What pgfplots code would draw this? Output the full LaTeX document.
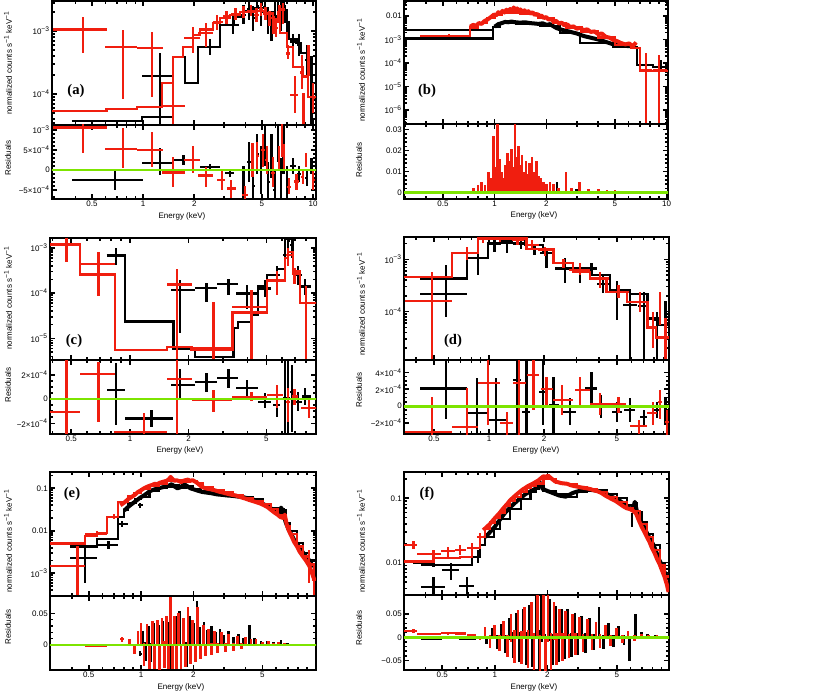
\documentclass[border=0pt]{standalone}
\usepackage{fontspec}
\setmainfont{Liberation Sans}
\newfontfamily\labfont{Liberation Serif}
\usepackage{pgfplots}
\usepackage{pgfplotstable}
\pgfplotsset{compat=1.18}
\definecolor{xred}{RGB}{240,30,15}
\definecolor{xgreen}{RGB}{125,228,0}

\pgfplotsset{every axis/.append style={scale only axis, xmode=log,
    scaled y ticks=false, scaled x ticks=false,
    axis line style={line width=1.8pt},
    tick align=inside, major tick length=3.5pt, minor tick length=2pt,
    tick style={line width=1.2pt, black},
    xtick={0.5,1,2,5,10},
    minor xtick={0.3,0.4,0.6,0.7,0.8,0.9,3,4,6,7,8,9},
    ticklabel style={font=\fontsize{6}{7}\selectfont, inner sep=1.5pt}}}
\newcommand\crs[2]{\addplot[draw=none, mark=none, error bars/.cd, x dir=both, x explicit, y dir=both, y explicit, error mark=none, error bar style={line width=1.7pt, draw=#1}] table[x=x,y=y,x error plus expr=\thisrow{xh}-\thisrow{x},x error minus expr=\thisrow{x}-\thisrow{xl},y error plus expr=\thisrow{yh}-\thisrow{y},y error minus expr=\thisrow{y}-\thisrow{yl}] {#2};}
\newcommand\dns[2]{\addplot[#1, line width=3pt, line join=round] table[x=x,y=y] {#2};}
\newcommand\rdn[2]{\addplot[ycomb, draw=#1, line width=2pt] table[x=x,y expr=\thisrow{y}+\thisrow{ey}] {#2};
  \addplot[ycomb, draw=#1, line width=2pt] table[x=x,y expr=\thisrow{y}-\thisrow{ey}] {#2};}
\newcommand\zl{\addplot[xgreen, line width=2.2pt] coordinates {(0.2,0) (20,0)};}

% ---------------- panel (a)
\pgfplotstableread{
x y xl xh yl yh
0.444 1.06e-3 0.296 0.614 4.5e-4 1.69e-3
0.763 5.6e-4 0.60 0.92 8.3e-5 1.04e-3
1.13 5.3e-4 0.92 1.31 9.1e-5 9.7e-4
1.5 6.5e-5 1.29 1.77 3.0e-5 3.9e-4
1.97 7.7e-4 1.74 2.16 4.4e-4 1.17e-3
2.34 9.2e-4 2.10 2.58 5.6e-4 1.33e-3
2.72 1.4e-3 2.58 2.95 1.04e-3 1.8e-3
3.1 1.7e-3 2.95 3.3 1.3e-3 2.1e-3
3.5 1.85e-3 3.3 3.7 1.5e-3 2.3e-3
3.9 2.0e-3 3.7 4.1 1.6e-3 2.5e-3
4.3 2.1e-3 4.1 4.5 1.7e-3 2.6e-3
4.65 1.8e-3 4.5 4.8 1.4e-3 2.3e-3
4.95 2.2e-3 4.8 5.1 1.7e-3 2.8e-3
5.25 1.9e-3 5.1 5.4 1.5e-3 2.4e-3
5.55 1.6e-3 5.4 5.7 1.2e-3 2.1e-3
5.85 1.3e-3 5.7 6.0 9e-4 1.7e-3
6.06 1.1e-3 5.95 6.2 8e-4 1.6e-3
6.35 2.0e-3 6.2 6.5 1.5e-3 2.6e-3
6.66 2.2e-3 6.5 6.8 1.3e-3 2.8e-3
7.1 4.4e-4 6.9 7.35 3.6e-4 6e-4
7.8 9.6e-5 7.35 8.2 5e-5 1.9e-4
8.6 2.2e-4 8.4 8.8 1.2e-4 4.1e-4
8.8 5e-5 8.6 9.0 3.0e-5 1.03e-4
9.4 3.7e-4 9.2 9.6 1.9e-4 6.1e-4
10.0 8.7e-5 9.8 10.2 5e-5 1.5e-4
}\tAur
\pgfplotstableread{
x y xl xh yl yh
1.26 1.93e-4 0.99 1.5 3.0e-5 4.5e-4
2.48 5.6e-4 2.16 2.84 4.2e-4 7.5e-4
3.38 1.25e-3 3.1 3.65 9e-4 1.6e-3
3.9 1.8e-3 3.75 4.05 1.3e-3 2.6e-3
4.2 2.2e-3 4.1 4.3 1.5e-3 3.1e-3
4.45 1.6e-3 4.35 4.55 1.0e-3 2.5e-3
4.7 2.5e-3 4.6 4.8 1.7e-3 3.1e-3
4.95 2.0e-3 4.85 5.05 1.2e-3 3.1e-3
5.2 2.4e-3 5.1 5.3 1.5e-3 3.1e-3
5.45 1.5e-3 5.35 5.55 9e-4 2.4e-3
5.7 1.2e-3 5.6 5.8 7e-4 2.0e-3
5.95 2.0e-3 5.85 6.05 1.2e-3 3.1e-3
6.2 2.7e-3 6.1 6.3 1.8e-3 3.1e-3
6.45 1.7e-3 6.35 6.55 1.0e-3 2.9e-3
6.7 2.5e-3 6.6 6.8 1.5e-3 3.1e-3
7.0 1.3e-3 6.9 7.1 8e-4 2.2e-3
7.6 6.8e-4 7.3 7.9 5e-4 9e-4
8.3 6e-4 8.1 8.5 4e-4 9e-4
9.2 3.5e-4 9.0 9.4 2e-4 6e-4
9.8 1.6e-4 9.6 10.0 3.0e-5 4e-4
}\tAuk
\pgfplotstableread{
x y xl xh yl yh
0.444 1.06e-3 0.296 0.614 4.2e-4 1.2e-3
0.763 5.25e-4 0.60 0.92 4e-5 1.06e-3
1.13 5.0e-4 0.92 1.31 8e-5 9.6e-4
1.5 -6e-5 1.29 1.77 -4.2e-4 3.3e-4
1.97 2.5e-4 1.74 2.16 -8e-5 6e-4
2.34 -1.4e-4 2.10 2.58 -4.2e-4 8e-5
2.9 -2.5e-4 2.72 3.05 -5e-4 0
3.3 -4.6e-4 3.1 3.5 -7e-4 -2.5e-4
3.98 -6.2e-4 3.8 4.15 -7.3e-4 -4e-4
4.4 2.5e-4 4.3 4.5 -1.7e-4 6.7e-4
4.7 3.5e-4 4.6 4.8 0 7e-4
5.1 5e-4 4.95 5.25 8e-5 9e-4
5.35 2.5e-4 5.25 5.45 -1e-4 6e-4
5.8 -8e-5 5.65 5.95 -4.2e-4 3.3e-4
6.3 3e-4 6.2 6.4 0 6e-4
6.56 7e-4 6.45 6.65 3.3e-4 1.2e-3
6.75 3.3e-4 6.65 6.85 0 6.5e-4
7.2 -4.2e-4 7.0 7.4 -6e-4 -2e-4
8.0 -2.9e-4 7.7 8.3 -5e-4 -1e-4
8.7 -1.7e-4 8.5 8.9 -3.5e-4 0
9.1 2.5e-4 8.95 9.25 8e-5 4.2e-4
10.0 -2.5e-4 9.8 10.2 -5e-4 0
}\tAlr
\pgfplotstableread{
x y xl xh yl yh
0.685 -2.5e-4 0.38 1.0 -5e-4 0
1.26 1.7e-4 0.99 1.5 -1.25e-4 5.4e-4
1.73 2.5e-4 1.5 2.0 1.25e-4 3.75e-4
2.48 8e-5 2.16 2.84 0 1.5e-4
3.25 -8e-5 3.05 3.45 -1.7e-4 1e-5
3.9 -3e-4 3.8 4.0 -7e-4 1e-4
4.2 2e-4 4.1 4.3 -3e-4 7e-4
4.45 -4e-4 4.35 4.55 -7.3e-4 0
4.7 4e-4 4.6 4.8 -1e-4 9e-4
4.95 0 4.85 5.05 -6e-4 6e-4
5.2 6e-4 5.1 5.3 1e-4 1.2e-3
5.45 -3e-4 5.35 5.55 -7e-4 2e-4
5.7 3e-4 5.6 5.8 -2e-4 9e-4
5.95 -5e-4 5.85 6.05 -7.3e-4 0
6.2 8e-4 6.1 6.3 2e-4 1.2e-3
6.45 -2e-4 6.35 6.55 -7e-4 3e-4
6.7 5e-4 6.6 6.8 -1e-4 1.2e-3
7.0 -4e-4 6.9 7.1 -7.3e-4 1e-4
7.6 1e-4 7.3 7.9 -1e-4 3e-4
8.3 -1e-4 8.1 8.5 -3e-4 1e-4
9.2 -2e-4 9.0 9.4 -4e-4 0
9.8 1e-4 9.6 10.0 -1e-4 3e-4
}\tAlk

% ---------------- panel (b)
\pgfplotstableread{
x y xl xh yl yh
0.54 1.45e-3 0.368 0.703 1.25e-3 1.7e-3
7.6 5e-5 7.0 8.2 1e-7 2.6e-4
9.0 5e-5 8.3 10.0 1e-7 2.2e-4
}\tBur
\pgfplotstableread{
x y xl xh yl yh
0.54 2.6e-3 0.297 0.98 2.3e-3 2.9e-3
9.3 7e-5 8.4 10.18 4e-5 1.4e-4
}\tBuk
\pgfplotstableread{
x y
0.72 3.5e-3
0.75 4.2e-3
0.78 3.8e-3
0.81 5.0e-3
0.84 4.6e-3
0.87 6.0e-3
0.90 6.8e-3
0.93 8.0e-3
0.96 9.5e-3
0.99 0.0115
1.02 0.0105
1.05 0.0145
1.08 0.0125
1.11 0.0165
1.14 0.0140
1.17 0.0185
1.20 0.0150
1.23 0.0200
1.26 0.0165
1.29 0.0230
1.32 0.0170
1.35 0.0210
1.38 0.0160
1.41 0.0190
1.45 0.0145
1.49 0.0175
1.53 0.0135
1.57 0.0160
1.61 0.0125
1.66 0.0145
1.71 0.0110
1.76 0.0125
1.81 0.0095
1.87 0.0105
1.93 0.0082
1.99 0.0090
2.06 0.0070
2.13 0.0075
2.20 0.0058
2.28 0.0062
2.36 0.0048
2.45 0.0052
2.54 0.0040
2.64 0.0044
2.75 0.0034
2.87 0.0036
3.00 0.0029
3.14 0.0031
3.29 0.0025
3.45 0.0027
3.62 0.0021
3.80 0.0022
3.99 0.0017
4.20 0.0018
4.42 0.0013
4.65 0.0012
4.90 0.00095
5.15 0.00085
5.45 0.00070
5.75 0.00062
6.05 0.00068
6.35 0.00052
6.65 0.00075
}\tBurd
\pgfplotstableread{
x y
1.0 3.5e-3
1.05 4.5e-3
1.1 5.0e-3
1.15 5.6e-3
1.2 5.4e-3
1.25 5.8e-3
1.3 5.5e-3
1.4 5.2e-3
1.5 5.4e-3
1.6 5.0e-3
1.7 4.8e-3
1.8 4.6e-3
1.9 4.9e-3
2.0 4.2e-3
2.1 4.5e-3
2.2 3.6e-3
2.3 3.0e-3
2.5 2.5e-3
2.7 2.2e-3
3.0 1.8e-3
3.3 1.4e-3
3.6 1.2e-3
4.0 1.0e-3
4.4 8e-4
4.8 6.5e-4
5.2 6e-4
5.6 5.5e-4
6.0 5.2e-4
6.5 5.5e-4
}\tBukd
\pgfplotstableread{
x y ey
0.55 0.0005 0.0005
0.75 0.001 0.001
0.80 0.002 0.0015
0.84 0.003 0.002
0.88 0.002 0.0015
0.92 0.006 0.004
0.95 0.004 0.003
0.98 0.016 0.011
1.01 0.007 0.005
1.04 0.020 0.013
1.07 0.010 0.006
1.10 0.006 0.004
1.13 0.004 0.003
1.16 0.008 0.005
1.19 0.012 0.007
1.22 0.009 0.006
1.25 0.013 0.008
1.28 0.007 0.005
1.31 0.021 0.013
1.34 0.010 0.007
1.37 0.014 0.008
1.40 0.008 0.005
1.44 0.011 0.007
1.48 0.006 0.004
1.52 0.009 0.006
1.56 0.005 0.004
1.60 0.008 0.006
1.65 0.010 0.007
1.70 0.006 0.004
1.75 0.009 0.006
1.80 0.005 0.003
1.86 0.004 0.003
1.92 0.003 0.002
2.0 0.002 0.002
2.1 0.003 0.002
2.2 0.002 0.002
2.35 0.001 0.001
2.6 0.006 0.004
2.8 0.001 0.001
3.1 0.003 0.002
3.5 0.0008 0.0008
4.0 0.001 0.0008
4.5 0.0008 0.0006
5.0 0.0006 0.0005
5.5 0.0005 0.0004
6.0 0.0005 0.0004
6.5 0.0004 0.0004
}\tBlrd
\pgfplotstableread{
x y ey
1.0 0.001 0.001
1.2 0.0015 0.001
1.4 0.001 0.001
1.6 0.002 0.0015
1.8 0.001 0.001
2.0 0.0015 0.001
2.3 0.003 0.002
2.6 0.001 0.001
3.0 0.0008 0.0008
3.5 0.0005 0.0005
4.0 0.0005 0.0005
5.0 0.0003 0.0003
6.0 0.0004 0.0004
}\tBlkd
\pgfplotstableread{
x y xl xh yl yh
0.54 0.0005 0.297 0.98 0.0002 0.0008
}\tBlk

% ---------------- panel (c)
\pgfplotstableread{
x y xl xh yl yh
0.473 1.15e-3 0.389 0.554 4.9e-4 1.61e-3
0.69 4.3e-4 0.554 0.838 8.5e-5 8.2e-4
1.74 1.55e-4 1.55 2.07 3e-6 3.4e-4
2.68 6e-6 2.07 3.35 3e-6 6.3e-5
4.2 5e-5 3.35 5.02 3e-6 1.16e-4
5.65 1.9e-4 5.02 6.1 9e-5 3e-4
6.48 6.9e-4 6.3 6.8 4e-4 9.7e-4
6.97 2.7e-4 6.8 7.45 1.6e-4 3.6e-4
8.0 6e-5 7.55 9.05 3e-6 1.4e-4
}\tCur
\pgfplotstableread{
x y xl xh yl yh
0.85 6.7e-4 0.76 0.943 4.15e-4 9.7e-4
1.8 1.16e-4 1.63 2.15 1.3e-5 1.9e-4
2.47 1.3e-4 2.15 2.78 6.3e-5 1.7e-4
3.2 1.6e-4 2.78 3.59 9e-5 2.0e-4
3.97 9.7e-5 3.5 4.55 4.4e-5 1.5e-4
4.92 1.26e-4 4.55 5.3 8e-5 1.9e-4
5.65 2.5e-4 5.45 5.85 1.5e-4 4e-4
6.23 6.9e-4 6.1 6.35 3.5e-4 1.3e-3
6.48 1.45e-3 6.38 6.6 9.7e-4 1.7e-3
6.75 1.15e-3 6.6 6.9 6e-4 1.6e-3
7.3 2.5e-4 7.0 7.6 1.5e-4 4e-4
7.9 1.4e-4 7.45 8.5 9e-5 2e-4
}\tCuk
\pgfplotstableread{
x y xl xh yl yh
0.473 -1.04e-4 0.389 0.554 -3.0e-4 3.3e-4
0.69 2.05e-4 0.554 0.838 -1.86e-4 3.07e-4
1.18 -2.74e-4 0.83 1.55 -3.0e-4 -1.18e-4
1.74 1.64e-4 1.55 2.07 -3.0e-4 3.3e-4
2.68 -8e-6 2.07 3.35 -1.04e-4 7.4e-5
4.2 1.9e-5 3.35 5.02 -2e-5 6e-5
5.65 3.3e-5 5.02 6.1 -7.7e-5 1.15e-4
6.48 -2.2e-5 6.3 6.65 -1.86e-4 8.8e-5
6.97 2e-5 6.75 7.3 -5e-5 8e-5
8.3 -7.7e-5 7.55 9.05 -1.6e-4 5e-6
}\tClr
\pgfplotstableread{
x y xl xh yl yh
0.85 7.4e-5 0.76 0.943 -2.1e-4 2.93e-4
1.29 -1.6e-4 0.943 1.67 -2.3e-4 -9e-5
1.8 1.15e-4 1.63 2.15 5e-6 2.5e-4
2.47 1.4e-4 2.15 2.78 6e-5 2.1e-4
3.2 1.75e-4 2.78 3.59 8.8e-5 2.5e-4
3.97 8.8e-5 3.5 4.55 5e-6 1.6e-4
4.92 -2.2e-5 4.55 5.3 -7.7e-5 4.7e-5
5.65 -5e-5 5.4 5.9 -1.45e-4 2e-5
6.23 5e-6 6.1 6.35 -3e-4 3.3e-4
6.48 5e-6 6.38 6.6 -3e-4 3.3e-4
6.75 6e-5 6.6 6.9 -2.7e-4 2.8e-4
7.3 -2.2e-5 7.0 7.6 -1e-4 6e-5
7.9 2e-5 7.6 8.5 -5e-5 9e-5
}\tClk

% ---------------- panel (d)
\pgfplotstableread{
x y xl xh yl yh
0.486 1.6e-4 0.347 0.625 1e-5 5.8e-4
0.755 1.3e-3 0.625 0.874 9.5e-4 1.74e-3
0.93 2.5e-3 0.874 0.99 2.02e-3 2.63e-3
1.15 2.5e-3 1.07 1.23 2.1e-3 2.7e-3
1.43 2.4e-3 1.33 1.55 1.9e-3 2.7e-3
1.72 1.9e-3 1.573 1.87 1.6e-3 2.3e-3
2.02 1.5e-3 1.85 2.25 1.15e-3 1.74e-3
2.55 8.4e-4 2.25 2.89 6.7e-4 1.0e-3
3.14 6.3e-4 2.75 3.56 5.0e-4 8.4e-4
4.04 4.3e-4 3.56 4.5 2.8e-4 5.8e-4
5.1 2.4e-4 4.5 5.8 1.8e-4 3.2e-4
6.7 1.55e-4 5.9 7.27 1.0e-4 2.4e-4
7.9 5e-5 7.27 8.3 2.0e-5 1.0e-4
8.6 1.35e-4 8.45 8.75 5.5e-5 2.4e-4
9.2 3.2e-5 9.0 9.5 1e-5 7.4e-5
}\tDur
\pgfplotstableread{
x y xl xh yl yh
0.58 2.2e-4 0.42 0.755 8e-5 7.9e-4
0.874 1.05e-3 0.755 0.99 5e-4 1.6e-3
1.07 2.0e-3 0.99 1.148 1.4e-3 2.34e-3
1.25 2.1e-3 1.148 1.36 1.3e-3 2.5e-3
1.49 2.0e-3 1.36 1.6 1.6e-3 2.5e-3
1.77 1.6e-3 1.6 1.9 1.2e-3 1.9e-3
2.06 1.3e-3 1.9 2.25 6.7e-4 1.65e-3
2.6 6.7e-4 2.3 2.89 3.5e-4 1.05e-3
3.14 5.8e-4 2.9 3.4 3.5e-4 8.4e-4
3.63 6.7e-4 3.4 3.9 5.0e-4 8.4e-4
4.2 3.4e-4 3.9 4.6 2.3e-4 5.0e-4
5.0 2.4e-4 4.6 5.4 7e-5 3.8e-4
5.9 1.35e-4 5.4 6.4 1e-5 2.2e-4
7.0 1.3e-4 6.5 7.5 1e-5 2.4e-4
8.3 7e-5 7.9 8.7 1e-5 1e-4
9.2 5.5e-5 8.9 9.5 1e-5 1.6e-4
}\tDuk
\pgfplotstableread{
x y xl xh yl yh
0.486 -3.06e-4 0.347 0.625 -3.5e-4 1.1e-4
0.755 -2.46e-4 0.625 0.874 -3.5e-4 2.1e-4
0.99 2.78e-4 0.874 1.148 -2.3e-4 5.6e-4
1.25 -2.06e-4 1.15 1.36 -3.5e-4 -6.7e-5
1.46 2.78e-4 1.36 1.6 -3.5e-4 5.6e-4
1.75 3.7e-4 1.62 1.87 -4.8e-5 5.6e-4
2.06 2e-4 1.92 2.25 1.1e-5 3.5e-4
2.5 7e-5 2.25 2.89 -1.07e-4 2.5e-4
3.14 1.9e-4 2.95 3.56 -8e-6 3.5e-4
4.04 2.4e-5 3.56 4.5 -1.07e-4 1.5e-4
5.1 2.4e-5 4.5 5.6 -8.7e-5 1.1e-4
6.6 -2.4e-4 5.9 7.27 -3.3e-4 -1.67e-4
7.9 -8.7e-5 7.27 8.3 -2.3e-4 5e-5
8.6 5e-5 8.4 8.8 -1.5e-4 1.9e-4
9.36 -1.87e-4 9.1 9.6 -3.5e-4 -4.8e-5
}\tDlr
\pgfplotstableread{
x y xl xh yl yh
0.58 2.1e-4 0.42 0.755 -1.5e-4 5.6e-4
0.86 -8.7e-5 0.755 0.99 -3.5e-4 3.3e-4
1.09 -1.67e-4 0.99 1.25 -3.5e-4 3.3e-4
1.43 3.1e-4 1.36 1.5 -3.5e-4 5.6e-4
1.6 -6.7e-5 1.52 1.68 -3.5e-4 5.6e-4
1.98 1.7e-4 1.88 2.1 -2.3e-4 5.6e-4
2.25 1.2e-5 2.12 2.4 -3.5e-4 3.5e-4
2.78 -6.7e-5 2.55 3.0 -2.3e-4 9e-5
3.63 2.1e-4 3.35 3.9 -8e-6 4.1e-4
4.1 1.2e-5 3.95 4.3 -1.47e-4 1.3e-4
5.0 -6.7e-5 4.7 5.3 -1.87e-4 5e-5
5.9 -4.8e-5 5.5 6.3 -1.87e-4 9e-5
7.0 -1.27e-4 6.7 7.3 -2.3e-4 -4.8e-5
8.3 -4.8e-5 7.9 8.7 -1.47e-4 5e-5
9.2 1.2e-5 9.0 9.5 -2.27e-4 1.1e-4
}\tDlk

% ---------------- panel (e)
\pgfplotstableread{
x y xl xh yl yh
0.43 1.47e-3 0.299 0.476 2.5e-4 4.3e-3
0.556 8.4e-3 0.476 0.634 7.3e-3 9.8e-3
0.70 0.0215 0.634 0.74 0.019 0.025
9.3 1.75e-3 9.1 9.5 6e-4 3.5e-3
9.9 7e-4 9.7 10.1 2.5e-4 1.5e-3
}\tEur
\pgfplotstableread{
x y xl xh yl yh
0.476 2.3e-3 0.39 0.556 5.8e-4 4.3e-3
0.65 4.6e-3 0.556 0.74 3.8e-3 5.6e-3
0.78 0.0145 0.74 0.845 0.012 0.017
0.99 0.04 0.96 1.02 0.035 0.046
}\tEuk
\pgfplotstableread{
x y
0.76 0.040
0.80 0.046
0.84 0.055
0.88 0.062
0.92 0.070
0.96 0.082
1.00 0.090
1.04 0.100
1.08 0.108
1.12 0.115
1.16 0.120
1.20 0.128
1.24 0.125
1.28 0.135
1.32 0.140
1.36 0.145
1.40 0.150
1.44 0.160
1.48 0.185
1.52 0.165
1.56 0.150
1.60 0.155
1.65 0.148
1.70 0.140
1.75 0.150
1.80 0.155
1.86 0.160
1.92 0.150
1.98 0.155
2.04 0.145
2.10 0.135
2.17 0.120
2.24 0.108
2.32 0.102
2.40 0.098
2.50 0.095
2.60 0.092
2.70 0.088
2.82 0.083
2.94 0.080
3.07 0.076
3.20 0.073
3.35 0.070
3.50 0.068
3.66 0.064
3.83 0.060
4.00 0.057
4.20 0.053
4.40 0.050
4.62 0.047
4.85 0.044
5.10 0.040
5.35 0.036
5.60 0.031
5.85 0.027
6.10 0.024
6.35 0.021
6.60 0.020
6.72 0.024
6.90 0.014
7.10 0.010
7.35 7.5e-3
7.60 5.5e-3
7.90 4.3e-3
8.20 3.2e-3
8.55 2.5e-3
8.90 2.0e-3
9.30 1.5e-3
9.65 1.0e-3
9.95 7e-4
}\tEurd
\pgfplotstableread{
x y
0.80 0.030
0.84 0.036
0.88 0.042
0.92 0.048
0.96 0.055
1.00 0.062
1.04 0.068
1.08 0.076
1.12 0.085
1.16 0.090
1.20 0.095
1.26 0.100
1.32 0.105
1.38 0.110
1.44 0.115
1.50 0.125
1.56 0.110
1.62 0.100
1.68 0.105
1.74 0.118
1.80 0.120
1.86 0.110
1.92 0.100
2.00 0.095
2.08 0.090
2.16 0.086
2.25 0.082
2.35 0.080
2.45 0.078
2.56 0.076
2.68 0.073
2.80 0.071
2.95 0.070
3.10 0.068
3.25 0.067
3.40 0.066
3.60 0.064
3.80 0.063
4.00 0.060
4.20 0.058
4.40 0.055
4.65 0.050
4.90 0.045
5.15 0.041
5.40 0.037
5.65 0.033
5.90 0.029
6.15 0.026
6.40 0.035
6.55 0.030
6.80 0.016
7.05 0.011
7.30 8.5e-3
7.60 6.2e-3
7.90 5.0e-3
8.25 3.8e-3
8.60 3.0e-3
9.00 2.4e-3
9.40 1.9e-3
9.80 1.4e-3
}\tEukd
\pgfplotstableread{
x y xl xh yl yh
0.43 0.000 0.299 0.476 -0.002 0.002
0.556 -0.001 0.476 0.634 -0.003 0.001
0.70 0.000 0.634 0.74 -0.002 0.002
0.78 0.009 0.76 0.80 0.005 0.013
}\tElr
\pgfplotstableread{
x y xl xh yl yh
0.476 0.000 0.39 0.556 -0.001 0.001
0.65 0.000 0.556 0.74 -0.001 0.001
0.99 -0.014 0.97 1.01 -0.018 -0.010
}\tElk
\pgfplotstableread{
x y ey
0.86 0.004 0.006
0.92 -0.006 0.008
0.96 0.012 0.010
1.00 0.020 0.015
1.04 -0.015 0.018
1.08 0.018 0.015
1.12 -0.020 0.018
1.16 0.022 0.016
1.20 -0.018 0.020
1.24 0.026 0.014
1.28 -0.022 0.017
1.32 0.024 0.018
1.36 -0.015 0.022
1.40 0.030 0.016
1.44 -0.020 0.018
1.48 0.050 0.025
1.52 -0.018 0.020
1.56 0.028 0.018
1.60 -0.022 0.016
1.65 0.030 0.020
1.70 -0.020 0.018
1.75 0.026 0.016
1.80 -0.016 0.018
1.86 0.040 0.020
1.92 -0.014 0.016
1.98 0.025 0.015
2.05 -0.012 0.014
2.12 0.045 0.015
2.20 -0.010 0.012
2.28 0.020 0.012
2.36 -0.008 0.010
2.45 0.016 0.010
2.55 -0.006 0.009
2.65 0.013 0.009
2.75 -0.005 0.008
2.90 0.012 0.008
3.05 -0.004 0.007
3.20 0.010 0.007
3.40 -0.003 0.006
3.60 0.008 0.006
3.80 -0.002 0.005
4.00 0.007 0.005
4.30 0.004 0.005
4.60 0.005 0.004
5.00 0.002 0.003
5.40 0.003 0.003
5.80 0.001 0.002
6.20 0.002 0.002
6.70 0.001 0.002
7.5 0.000 0.001
8.5 0.001 0.001
9.5 0.000 0.001
}\tElrd
\pgfplotstableread{
x y ey
1.02 0.010 0.012
1.06 -0.010 0.015
1.10 0.018 0.012
1.14 -0.012 0.015
1.18 0.020 0.014
1.26 0.016 0.016
1.34 0.024 0.014
1.42 0.018 0.018
1.50 -0.020 0.020
1.58 0.030 0.016
1.66 0.036 0.018
1.74 0.022 0.016
1.82 -0.015 0.020
1.90 0.030 0.015
2.00 0.020 0.015
2.10 0.050 0.020
2.18 0.015 0.014
2.30 0.025 0.012
2.42 0.012 0.012
2.55 0.020 0.010
2.70 0.010 0.010
2.85 0.016 0.009
3.00 0.008 0.008
3.20 0.014 0.008
3.40 0.006 0.007
3.65 0.012 0.006
3.90 0.005 0.006
4.20 0.020 0.012
4.50 0.006 0.005
4.90 0.003 0.004
5.30 0.004 0.003
5.80 0.002 0.003
6.40 0.005 0.003
7.0 0.001 0.002
8.0 0.000 0.001
9.0 0.001 0.001
}\tElkd

% ---------------- panel (f)
\pgfplotstableread{
x y xl xh yl yh
0.342 0.0188 0.30 0.36 0.0165 0.0215
0.445 0.0135 0.36 0.49 0.0118 0.0155
0.54 0.015 0.49 0.59 0.0118 0.0175
0.633 0.0158 0.59 0.68 0.013 0.0185
0.74 0.017 0.69 0.78 0.0145 0.020
0.824 0.025 0.79 0.86 0.021 0.029
}\tFur
\pgfplotstableread{
x y xl xh yl yh
0.445 9.2e-3 0.38 0.50 8.5e-3 0.010
0.445 4.2e-3 0.38 0.52 3e-3 6e-3
0.56 7.7e-3 0.50 0.62 5.3e-3 9.8e-3
0.69 4.4e-3 0.62 0.76 3.1e-3 6e-3
0.80 0.0124 0.77 0.83 0.010 0.0155
6.10 0.045 6.05 6.15 0.036 0.060
}\tFuk
\pgfplotstableread{
x y
0.86 0.032
0.90 0.036
0.94 0.040
0.98 0.046
1.02 0.052
1.06 0.058
1.10 0.066
1.14 0.074
1.18 0.082
1.22 0.092
1.26 0.100
1.30 0.108
1.35 0.118
1.40 0.128
1.45 0.138
1.50 0.146
1.55 0.155
1.60 0.162
1.66 0.170
1.72 0.180
1.78 0.190
1.84 0.205
1.90 0.220
1.96 0.215
2.02 0.225
2.08 0.210
2.15 0.195
2.22 0.182
2.30 0.178
2.40 0.172
2.50 0.170
2.60 0.168
2.72 0.160
2.84 0.155
2.96 0.152
3.10 0.148
3.25 0.145
3.40 0.142
3.56 0.138
3.73 0.132
3.90 0.128
4.10 0.120
4.30 0.110
4.50 0.103
4.72 0.096
4.95 0.090
5.20 0.082
5.45 0.075
5.70 0.070
5.95 0.068
6.20 0.064
6.45 0.058
6.70 0.045
6.95 0.036
7.20 0.030
7.45 0.025
7.70 0.021
7.95 0.017
8.20 0.0145
8.50 0.0115
8.80 9.5e-3
9.10 7.5e-3
9.40 6.0e-3
9.70 4.5e-3
9.90 3.5e-3
}\tFurd
\pgfplotstableread{
x y
0.88 0.025
0.92 0.028
0.96 0.032
1.00 0.036
1.04 0.042
1.08 0.048
1.12 0.055
1.16 0.062
1.20 0.068
1.25 0.076
1.30 0.084
1.35 0.092
1.40 0.100
1.45 0.108
1.50 0.116
1.55 0.122
1.60 0.128
1.66 0.135
1.72 0.142
1.78 0.160
1.82 0.175
1.88 0.140
1.94 0.135
2.00 0.130
2.08 0.125
2.16 0.120
2.25 0.115
2.35 0.110
2.45 0.108
2.55 0.106
2.65 0.112
2.78 0.120
2.92 0.126
3.06 0.130
3.22 0.133
3.38 0.135
3.55 0.135
3.72 0.133
3.90 0.130
4.10 0.125
4.30 0.120
4.52 0.112
4.75 0.104
5.00 0.098
5.25 0.090
5.50 0.082
5.75 0.075
6.00 0.068
6.20 0.072
6.35 0.088
6.55 0.060
6.80 0.046
7.05 0.040
7.30 0.032
7.55 0.027
7.80 0.023
8.10 0.019
8.40 0.015
8.70 0.0115
9.00 9.5e-3
9.30 7.5e-3
9.60 6.5e-3
9.90 5.5e-3
}\tFukd
\pgfplotstableread{
x y xl xh yl yh
0.342 0.0136 0.30 0.36 0.010 0.017
0.445 0.0064 0.36 0.49 0.004 0.009
0.54 0.0086 0.49 0.59 0.005 0.012
0.633 0.008 0.59 0.68 0.005 0.011
0.74 0.005 0.69 0.78 0.002 0.008
0.824 -0.002 0.79 0.86 -0.006 0.002
}\tFlr
\pgfplotstableread{
x y xl xh yl yh
0.445 -0.004 0.38 0.50 -0.006 -0.002
0.56 -0.002 0.50 0.62 -0.004 0.000
0.69 -0.004 0.62 0.78 -0.006 -0.002
}\tFlk
\pgfplotstableread{
x y ey
0.88 0.010 0.012
0.94 -0.008 0.014
1.00 0.012 0.015
1.06 -0.012 0.018
1.12 0.016 0.020
1.18 -0.018 0.024
1.24 0.020 0.030
1.30 -0.020 0.035
1.36 0.028 0.030
1.42 -0.022 0.035
1.48 0.035 0.030
1.55 -0.025 0.040
1.62 0.040 0.035
1.68 -0.030 0.040
1.75 0.050 0.045
1.82 -0.035 0.040
1.90 0.045 0.045
1.96 -0.040 0.035
2.02 0.040 0.050
2.10 -0.030 0.040
2.18 0.035 0.040
2.26 -0.025 0.035
2.35 0.030 0.030
2.45 -0.020 0.030
2.55 0.028 0.028
2.66 -0.018 0.026
2.78 0.025 0.025
2.90 -0.015 0.024
3.05 0.022 0.022
3.20 -0.012 0.020
3.40 0.020 0.020
3.60 -0.010 0.018
3.80 0.016 0.016
4.00 -0.008 0.015
4.30 0.013 0.014
4.60 -0.006 0.012
5.00 0.010 0.010
5.40 -0.004 0.008
5.80 0.006 0.007
6.30 -0.002 0.006
6.90 0.004 0.004
7.60 0.002 0.003
8.50 0.002 0.002
9.5 0.001 0.002
}\tFlrd
\pgfplotstableread{
x y ey
0.90 -0.006 0.008
0.97 0.008 0.012
1.03 -0.010 0.015
1.09 0.012 0.016
1.15 -0.014 0.020
1.21 0.018 0.024
1.27 -0.016 0.028
1.33 0.024 0.028
1.39 -0.020 0.032
1.45 0.030 0.030
1.52 -0.024 0.036
1.58 0.036 0.034
1.65 -0.028 0.036
1.72 0.045 0.045
1.80 -0.030 0.045
1.86 0.040 0.050
1.94 -0.028 0.036
2.05 0.038 0.045
2.14 -0.026 0.034
2.22 0.032 0.036
2.32 -0.022 0.030
2.42 0.030 0.030
2.52 -0.018 0.028
2.62 0.030 0.030
2.75 -0.016 0.026
2.88 0.026 0.026
3.00 -0.014 0.024
3.15 0.024 0.022
3.30 -0.012 0.022
3.50 0.022 0.020
3.70 -0.010 0.018
3.95 0.040 0.025
4.20 -0.010 0.016
4.50 0.016 0.015
4.80 -0.008 0.013
5.10 0.012 0.012
5.50 -0.006 0.010
5.90 -0.030 0.020
6.40 0.030 0.020
6.90 0.006 0.005
7.50 0.003 0.004
8.30 0.002 0.003
9.3 0.001 0.002
}\tFlkd

\begin{document}
\begin{tikzpicture}
\path[use as bounding box] (0,0) rectangle (626.25pt,-519pt);

% ===== (a)
\begin{axis}[ymode=log, xticklabels={}, at={(39pt,-0.75pt)}, anchor=north west, width=198pt, height=93pt,
  xmin=0.291, xmax=10.41, ymin=3.22e-5, ymax=2.99e-3,
  ytick={1e-4,1e-3}, yticklabels={10\textsuperscript{−4},10\textsuperscript{−3}},
  minor ytick={4e-5,5e-5,6e-5,7e-5,8e-5,9e-5,2e-4,3e-4,4e-4,5e-4,6e-4,7e-4,8e-4,9e-4,2e-3}]
\crs{black}{\tAuk}
\addplot[const plot, line width=1.7pt, black] coordinates {(0.38,3.7e-5) (0.99,4.3e-5) (1.5,3.9e-4) (1.77,1.5e-4) (2.1,5.6e-4) (2.84,1.25e-3) (3.4,1.7e-3) (3.9,2.1e-3) (4.5,2.3e-3) (5.2,2.0e-3) (5.7,1.7e-3) (6.2,2.5e-3) (6.8,1.4e-3) (7.2,7.5e-4) (8.0,6.4e-4) (8.5,4.5e-4) (9.2,2.7e-4) (9.8,1.5e-4) (10.41,1.5e-4)};
\crs{xred}{\tAur}
\addplot[const plot, line width=1.7pt, xred] coordinates {(0.29,5.4e-5) (0.61,5.8e-5) (0.92,6.2e-5) (1.29,1.5e-4) (1.5,3.9e-4) (1.72,5.6e-4) (1.97,8.6e-4) (2.16,1.06e-3) (2.58,1.33e-3) (2.84,1.6e-3) (3.25,1.8e-3) (3.72,2.0e-3) (4.5,2.1e-3) (5.3,1.9e-3) (5.8,1.4e-3) (6.2,2.0e-3) (6.4,9.3e-4) (7.0,5.6e-4) (7.6,2.7e-4) (8.7,1.9e-4) (9.3,9e-5) (10.41,9e-5)};
\end{axis}
\begin{axis}[xticklabels={0.5,1,2,5,10}, at={(39pt,-93.75pt)}, anchor=north west, width=198pt, height=55.5pt,
  xmin=0.291, xmax=10.41, ymin=-7.25e-4, ymax=1.125e-3,
  ytick={-5e-4,0,5e-4,1e-3}, yticklabels={−5×10\textsuperscript{−4},0,5×10\textsuperscript{−4},10\textsuperscript{−3}},
  minor y tick num=4]
\crs{black}{\tAlk}
\crs{xred}{\tAlr}
\zl
\end{axis}

% ===== (b)
\begin{axis}[ymode=log, xticklabels={}, at={(303pt,-0.75pt)}, anchor=north west, width=198pt, height=92.25pt,
  xmin=0.297, xmax=10.18, ymin=2.54e-7, ymax=0.0434,
  ytick={1e-6,1e-5,1e-4,1e-3,1e-2}, yticklabels={10\textsuperscript{−6},10\textsuperscript{−5},10\textsuperscript{−4},10\textsuperscript{−3},0.01},
  minor ytick={3e-7,4e-7,5e-7,6e-7,7e-7,8e-7,9e-7,2e-6,3e-6,4e-6,5e-6,6e-6,7e-6,8e-6,9e-6,2e-5,3e-5,4e-5,5e-5,6e-5,7e-5,8e-5,9e-5,2e-4,3e-4,4e-4,5e-4,6e-4,7e-4,8e-4,9e-4,2e-3,3e-3,4e-3,5e-3,6e-3,7e-3,8e-3,9e-3,2e-2,3e-2,4e-2}]
\crs{black}{\tBuk}
\dns{black}{\tBukd}
\addplot[const plot, line width=1.7pt, black] coordinates {(0.297,1.1e-3) (0.98,3.3e-3) (1.07,5.2e-3) (1.34,4.6e-3) (1.83,3.75e-3) (2.4,1.83e-3) (3.13,7.3e-4) (4.89,4.9e-4) (6.69,8.2e-5) (8.36,7e-5) (10.18,7e-5)};
\crs{xred}{\tBur}
\dns{xred}{\tBurd}
\addplot[const plot, line width=1.7pt, xred] coordinates {(0.368,1.45e-3) (0.72,3.2e-3) (0.80,5e-3) (0.90,8e-3) (1.0,0.011) (1.1,0.014) (1.4,0.012) (1.8,8e-3) (2.2,5e-3) (2.6,3.2e-3) (3.2,2.2e-3) (4.0,1.2e-3) (5.0,6e-4) (6.2,4.5e-4) (7.0,4.5e-5) (10.18,4.5e-5)};
\end{axis}
\begin{axis}[xticklabels={0.5,1,2,5,10}, at={(303pt,-93pt)}, anchor=north west, width=198pt, height=56.25pt,
  xmin=0.297, xmax=10.18, ymin=-0.003, ymax=0.0327,
  ytick={0,0.01,0.02,0.03}, yticklabels={0,0.01,0.02,0.03},
  minor y tick num=4]
\crs{black}{\tBlk}
\rdn{black}{\tBlkd}
\rdn{xred}{\tBlrd}
\zl
\end{axis}

% ===== (c)
\begin{axis}[ymode=log, xtick={0.5,1,2,5}, xticklabels={}, at={(37.5pt,-178.5pt)}, anchor=north west, width=199.5pt, height=91.5pt,
  xmin=0.389, xmax=8.99, ymin=3.32e-6, ymax=1.64e-3,
  ytick={1e-5,1e-4,1e-3}, yticklabels={10\textsuperscript{−5},10\textsuperscript{−4},10\textsuperscript{−3}},
  minor ytick={4e-6,5e-6,6e-6,7e-6,8e-6,9e-6,2e-5,3e-5,4e-5,5e-5,6e-5,7e-5,8e-5,9e-5,2e-4,3e-4,4e-4,5e-4,6e-4,7e-4,8e-4,9e-4}]
\crs{black}{\tCuk}
\addplot[const plot, line width=1.7pt, black] coordinates {(0.76,6.7e-4) (0.943,2.35e-5) (1.67,5.9e-6) (2.15,3.9e-6) (3.39,1.7e-5) (3.59,2.3e-5) (4.2,3.3e-5) (4.55,1.4e-4) (5.02,2.5e-4) (5.65,3.4e-4) (6.23,1.55e-3) (6.88,3e-4) (7.45,1.4e-4) (8.5,1.4e-4)};
\crs{xred}{\tCur}
\addplot[const plot, line width=1.7pt, xred] coordinates {(0.389,1.2e-3) (0.554,2.55e-4) (0.838,5.5e-6) (1.55,6.5e-6) (2.07,5.5e-6) (3.35,3.7e-5) (5.02,1.9e-4) (6.23,6e-4) (6.48,8e-4) (6.88,3e-4) (7.45,6e-5) (8.99,6e-5)};
\end{axis}
\begin{axis}[xtick={0.5,1,2,5}, xticklabels={0.5,1,2,5}, at={(37.5pt,-270pt)}, anchor=north west, width=199.5pt, height=55.5pt,
  xmin=0.389, xmax=8.99, ymin=-2.88e-4, ymax=3.21e-4,
  ytick={-2e-4,0,2e-4}, yticklabels={−2×10\textsuperscript{−4},0,2×10\textsuperscript{−4}},
  minor y tick num=3]
\crs{black}{\tClk}
\crs{xred}{\tClr}
\zl
\end{axis}

% ===== (d)
\begin{axis}[ymode=log, xtick={0.5,1,2,5}, xticklabels={}, at={(303pt,-177.75pt)}, anchor=north west, width=198.75pt, height=92.25pt,
  xmin=0.343, xmax=9.63, ymin=1.19e-5, ymax=2.67e-3,
  ytick={1e-4,1e-3}, yticklabels={10\textsuperscript{−4},10\textsuperscript{−3}},
  minor ytick={2e-5,3e-5,4e-5,5e-5,6e-5,7e-5,8e-5,9e-5,2e-4,3e-4,4e-4,5e-4,6e-4,7e-4,8e-4,9e-4,2e-3}]
\crs{black}{\tDuk}
\addplot[const plot, line width=1.7pt, black] coordinates {(0.42,4.3e-4) (0.755,1.05e-3) (0.99,2.0e-3) (1.148,2.34e-3) (1.573,1.9e-3) (1.98,1.3e-3) (2.25,8.4e-4) (2.89,6.7e-4) (3.56,5e-4) (4.58,2.6e-4) (5.9,2.2e-4) (7.35,7.4e-5) (8.45,5.5e-5) (9.63,5.5e-5)};
\crs{xred}{\tDur}
\addplot[const plot, line width=1.7pt, xred] coordinates {(0.343,4.6e-4) (0.625,1.3e-3) (0.874,2.5e-3) (1.6,1.6e-3) (2.25,8.4e-4) (2.89,5.8e-4) (3.56,4.3e-4) (4.38,2.4e-4) (5.7,1.55e-4) (7.35,5e-5) (8.2,3.2e-5) (9.63,3.2e-5)};
\end{axis}
\begin{axis}[xtick={0.5,1,2,5}, xticklabels={0.5,1,2,5}, at={(303pt,-270pt)}, anchor=north west, width=198.75pt, height=55.5pt,
  xmin=0.343, xmax=9.63, ymin=-3.33e-4, ymax=5.48e-4,
  ytick={-2e-4,0,2e-4,4e-4}, yticklabels={−2×10\textsuperscript{−4},0,2×10\textsuperscript{−4},4×10\textsuperscript{−4}},
  minor y tick num=3]
\crs{black}{\tDlk}
\crs{xred}{\tDlr}
\zl
\end{axis}

% ===== (e)
\begin{axis}[ymode=log, xtick={0.5,1,2,5}, xticklabels={}, at={(37.5pt,-354pt)}, anchor=north west, width=199.5pt, height=93pt,
  xmin=0.299, xmax=10.17, ymin=2.92e-4, ymax=0.2417,
  ytick={1e-3,0.01,0.1}, yticklabels={10\textsuperscript{−3},0.01,0.1},
  minor ytick={3e-4,4e-4,5e-4,6e-4,7e-4,8e-4,9e-4,2e-3,3e-3,4e-3,5e-3,6e-3,7e-3,8e-3,9e-3,0.02,0.03,0.04,0.05,0.06,0.07,0.08,0.09,0.2}]
\crs{black}{\tEuk}
\dns{black}{\tEukd}
\addplot[const plot, line width=1.7pt, black] coordinates {(0.39,4.3e-3) (0.556,6.5e-3) (0.74,0.0215) (0.80,0.031) (0.845,0.045) (0.93,0.055) (1.0,0.063) (1.12,0.086) (1.26,0.1) (1.4,0.11) (1.53,0.12) (1.66,0.105) (1.8,0.115) (2.0,0.095) (2.2,0.086) (2.5,0.078) (2.85,0.07) (3.4,0.066) (3.87,0.063) (4.4,0.055) (5.06,0.043) (5.6,0.034) (6.1,0.025) (6.35,0.032) (6.6,0.03) (6.8,0.015) (7.2,0.01) (7.9,5.1e-3) (8.6,3e-3) (9.3,2e-3) (10.17,2e-3)};
\crs{xred}{\tEur}
\dns{xred}{\tEurd}
\addplot[const plot, line width=1.7pt, xred] coordinates {(0.299,5e-3) (0.476,7.5e-3) (0.556,8.7e-3) (0.634,0.0215) (0.74,0.048) (0.845,0.065) (0.91,0.076) (1.0,0.095) (1.12,0.115) (1.26,0.13) (1.4,0.15) (1.57,0.155) (1.72,0.145) (1.9,0.15) (2.09,0.13) (2.28,0.105) (2.6,0.093) (2.98,0.08) (3.4,0.07) (3.87,0.06) (4.4,0.05) (5.06,0.042) (5.6,0.032) (6.1,0.024) (6.5,0.02) (6.7,0.024) (6.85,0.013) (7.2,8.5e-3) (7.9,4.3e-3) (8.6,2.5e-3) (9.3,1.6e-3) (9.9,7e-4) (10.17,7e-4)};
\end{axis}
\begin{axis}[xtick={0.5,1,2,5}, xticklabels={0.5,1,2,5}, at={(37.5pt,-447pt)}, anchor=north west, width=199.5pt, height=55.5pt,
  xmin=0.299, xmax=10.17, ymin=-0.0394, ymax=0.0773,
  ytick={0,0.05}, yticklabels={0,0.05},
  minor y tick num=4]
\crs{black}{\tElk}
\rdn{black}{\tElkd}
\crs{xred}{\tElr}
\rdn{xred}{\tElrd}
\zl
\end{axis}

% ===== (f)
\begin{axis}[ymode=log, xtick={0.5,1,2,5}, xticklabels={}, at={(303pt,-354pt)}, anchor=north west, width=198.75pt, height=92.25pt,
  xmin=0.302, xmax=9.96, ymin=3.15e-3, ymax=0.256,
  ytick={0.01,0.1}, yticklabels={0.01,0.1},
  minor ytick={4e-3,5e-3,6e-3,7e-3,8e-3,9e-3,0.02,0.03,0.04,0.05,0.06,0.07,0.08,0.09,0.2}]
\crs{black}{\tFuk}
\dns{black}{\tFukd}
\addplot[const plot, line width=1.7pt, black] coordinates {(0.342,9.8e-3) (0.45,9.2e-3) (0.74,0.0124) (0.82,0.0188) (0.88,0.025) (0.99,0.033) (1.07,0.048) (1.22,0.068) (1.41,0.097) (1.6,0.125) (1.73,0.14) (1.8,0.165) (1.9,0.13) (2.25,0.118) (2.58,0.105) (2.95,0.128) (3.36,0.133) (3.85,0.133) (4.38,0.118) (5.0,0.1) (5.7,0.078) (6.1,0.068) (6.35,0.085) (6.5,0.06) (7.0,0.042) (7.43,0.028) (8.1,0.019) (8.87,9.8e-3) (9.4,6.1e-3) (9.96,6.1e-3)};
\crs{xred}{\tFur}
\dns{xred}{\tFurd}
\addplot[const plot, line width=1.7pt, xred] coordinates {(0.30,0.0104) (0.445,0.0117) (0.633,0.0124) (0.74,0.017) (0.824,0.0253) (0.88,0.034) (0.94,0.042) (1.0,0.05) (1.07,0.06) (1.15,0.075) (1.22,0.09) (1.3,0.105) (1.41,0.125) (1.52,0.145) (1.6,0.155) (1.73,0.17) (1.9,0.2) (2.06,0.2) (2.25,0.175) (2.58,0.165) (2.95,0.148) (3.36,0.14) (3.85,0.125) (4.38,0.105) (5.0,0.088) (5.7,0.07) (6.22,0.064) (6.8,0.04) (7.43,0.025) (8.1,0.0158) (8.87,9.3e-3) (9.4,6.1e-3) (9.96,6.1e-3)};
\end{axis}
\begin{axis}[xtick={0.5,1,2,5}, xticklabels={0.5,1,2,5}, at={(303pt,-446.25pt)}, anchor=north west, width=198.75pt, height=56.25pt,
  xmin=0.302, xmax=9.96, ymin=-0.0702, ymax=0.0908,
  ytick={-0.05,0,0.05}, yticklabels={−0.05,0,0.05},
  minor y tick num=4]
\crs{black}{\tFlk}
\rdn{black}{\tFlkd}
\crs{xred}{\tFlr}
\rdn{xred}{\tFlrd}
\zl
\end{axis}

% ===== labels
\begin{scope}[x=0.75pt, y=-0.75pt, every node/.style={font=\fontsize{6}{7}\selectfont, inner sep=0pt}]
\node[rotate=90] at (8,63) {normalized counts s\textsuperscript{−1} keV\textsuperscript{−1}};
\node[rotate=90] at (8,158) {Residuals};
\node[rotate=90] at (361,70) {normalized counts s\textsuperscript{−1} keV\textsuperscript{−1}};
\node[rotate=90] at (359,160) {Residuals};
\node[rotate=90] at (8,298) {normalized counts s\textsuperscript{−1} keV\textsuperscript{−1}};
\node[rotate=90] at (8,385) {Residuals};
\node[rotate=90] at (361,304) {normalized counts s\textsuperscript{−1} keV\textsuperscript{−1}};
\node[rotate=90] at (359,390) {Residuals};
\node[rotate=90] at (8,541) {normalized counts s\textsuperscript{−1} keV\textsuperscript{−1}};
\node[rotate=90] at (8,627) {Residuals};
\node[rotate=90] at (361,541) {normalized counts s\textsuperscript{−1} keV\textsuperscript{−1}};
\node[rotate=90] at (359,628) {Residuals};
\node at (182,216) {Energy (keV)};
\node at (534,215) {Energy (keV)};
\node at (180,450) {Energy (keV)};
\node at (536,450) {Energy (keV)};
\node at (181,687) {Energy (keV)};
\node at (534,687) {Energy (keV)};
\end{scope}
\begin{scope}[x=0.75pt, y=-0.75pt, every node/.style={font=\labfont\bfseries\fontsize{11}{12}\selectfont, inner sep=0pt}]
\node at (76,91) {(a)};
\node at (427,91) {(b)};
\node at (74,341) {(c)};
\node at (453,341) {(d)};
\node at (72,494) {(e)};
\node at (427,494) {(f)};
\end{scope}
\end{tikzpicture}
\end{document}
